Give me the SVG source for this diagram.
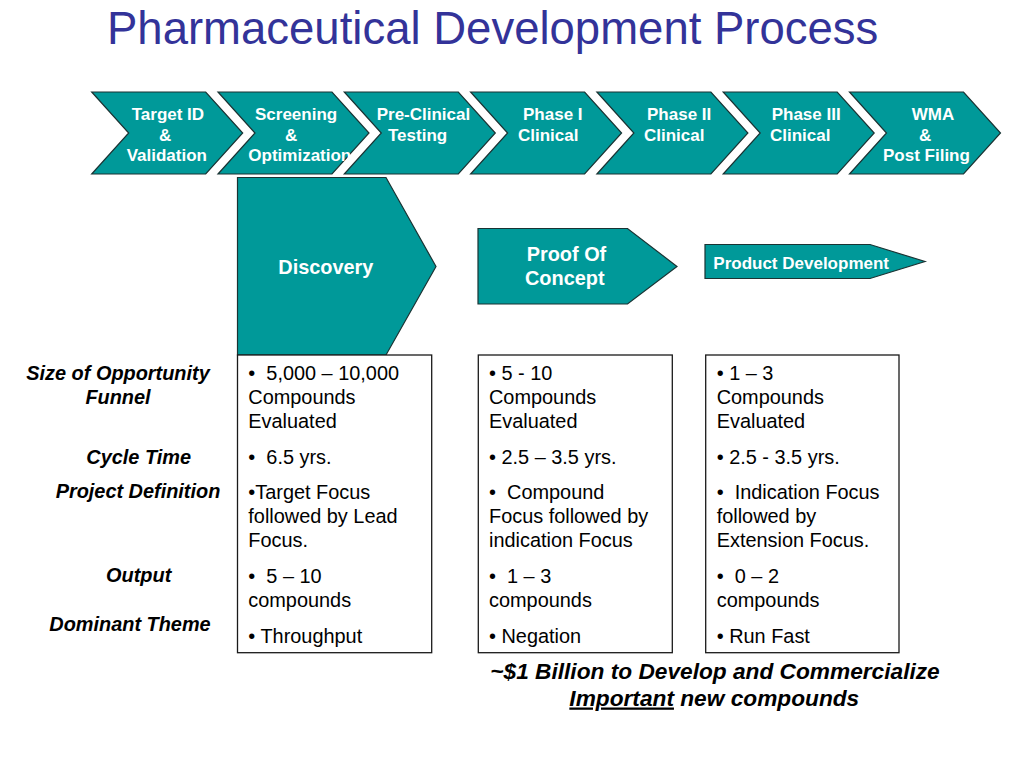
<svg xmlns="http://www.w3.org/2000/svg" width="1024" height="768" viewBox="0 0 1024 768">
<style>
text{font-family:"Liberation Sans",Arial,sans-serif;white-space:pre}
.title{font-size:45.5px;fill:#333399}
.chev{fill:#009999;stroke:#1a3333;stroke-width:1.2}
.ct{font-size:17px;font-weight:bold;fill:#ffffff}
.st{font-size:19.9px;font-weight:bold;fill:#ffffff}
.box{fill:#ffffff;stroke:#1a1a1a;stroke-width:1.3}
.bt{font-size:19.9px;fill:#000000}
.lbl{font-size:19.9px;font-weight:bold;font-style:italic;fill:#000000;text-anchor:middle}
.foot{font-size:22.7px;font-weight:bold;font-style:italic;fill:#000000;text-anchor:middle}
</style>
<rect width="1024" height="768" fill="#ffffff"/>
<text class="title" x="107" y="44">Pharmaceutical Development Process</text>

<g id="chevrons">
<g id="chev-target"><polygon class="chev" points="91.7,92 205.7,92 242.7,133 205.7,174 91.7,174 128.7,133"/>
<text class="ct" x="131.7" y="120">Target ID</text><text class="ct" x="159" y="140.5">&amp;</text><text class="ct" x="126.7" y="161">Validation</text></g>
<g id="chev-screening"><polygon class="chev" points="218,92 332,92 369,133 332,174 218,174 255,133"/>
<text class="ct" x="255" y="120">Screening</text><text class="ct" x="285" y="140.5">&amp;</text><text class="ct" x="248.3" y="161">Optimization</text></g>
<g id="chev-preclinical"><polygon class="chev" points="344.3,92 458.3,92 495.3,133 458.3,174 344.3,174 381.3,133"/>
<text class="ct" x="376.7" y="120">Pre-Clinical</text><text class="ct" x="388" y="140.5">Testing</text></g>
<g id="chev-phase1"><polygon class="chev" points="470.6,92 584.6,92 621.6,133 584.6,174 470.6,174 507.6,133"/>
<text class="ct" x="523" y="120">Phase I</text><text class="ct" x="518" y="140.5">Clinical</text></g>
<g id="chev-phase2"><polygon class="chev" points="596.9,92 710.9,92 747.9,133 710.9,174 596.9,174 633.9,133"/>
<text class="ct" x="647" y="120">Phase II</text><text class="ct" x="644" y="140.5">Clinical</text></g>
<g id="chev-phase3"><polygon class="chev" points="723.2,92 837.2,92 874.2,133 837.2,174 723.2,174 760.2,133"/>
<text class="ct" x="771.7" y="120">Phase III</text><text class="ct" x="770" y="140.5">Clinical</text></g>
<g id="chev-wma"><polygon class="chev" points="849.5,92 963.5,92 1000.5,133 963.5,174 849.5,174 886.5,133"/>
<text class="ct" x="911.7" y="120">WMA</text><text class="ct" x="919" y="140.5">&amp;</text><text class="ct" x="883" y="161">Post Filing</text></g>
</g>

<g id="discovery"><polygon class="chev" points="237.5,177.5 386,177.5 436,266.5 386,355 237.5,355"/>
<text class="st" x="278.3" y="274">Discovery</text></g>
<g id="proof-of-concept"><polygon class="chev" points="478,228.5 627.5,228.5 677,266.5 627.5,304 478,304"/>
<text class="st" x="526.7" y="261">Proof Of</text><text class="st" x="525" y="285">Concept</text></g>
<g id="product-development"><polygon class="chev" points="705,244.5 870,244.5 925,261.5 870,278.5 705,278.5"/>
<text class="ct" x="713.3" y="269">Product Development</text></g>

<g id="row-labels">
<text class="lbl" x="118" y="380">Size of Opportunity</text>
<text class="lbl" x="118" y="403.5">Funnel</text>
<text class="lbl" x="138.7" y="464">Cycle Time</text>
<text class="lbl" x="138" y="497.5">Project Definition</text>
<text class="lbl" x="138.7" y="582">Output</text>
<text class="lbl" x="130" y="631">Dominant Theme</text>
</g>

<g id="box-discovery"><rect class="box" x="237.5" y="355" width="194.2" height="297.7"/>
<text class="bt" x="248.3" y="380">•  5,000 – 10,000</text>
<text class="bt" x="248.3" y="404">Compounds</text>
<text class="bt" x="248.3" y="427.7">Evaluated</text>
<text class="bt" x="248.3" y="464">•  6.5 yrs.</text>
<text class="bt" x="248.3" y="499">•Target Focus</text>
<text class="bt" x="248.3" y="523.3">followed by Lead</text>
<text class="bt" x="248.3" y="546.7">Focus.</text>
<text class="bt" x="248.3" y="582.7">•  5 – 10</text>
<text class="bt" x="248.3" y="606.7">compounds</text>
<text class="bt" x="248.3" y="642.7">• Throughput</text>
</g>
<g id="box-proof"><rect class="box" x="478.3" y="355" width="194" height="297.7"/>
<text class="bt" x="489" y="380">• 5 - 10</text>
<text class="bt" x="489" y="404">Compounds</text>
<text class="bt" x="489" y="427.7">Evaluated</text>
<text class="bt" x="489" y="464">• 2.5 – 3.5 yrs.</text>
<text class="bt" x="489" y="499">•  Compound</text>
<text class="bt" x="489" y="523.3">Focus followed by</text>
<text class="bt" x="489" y="546.7">indication Focus</text>
<text class="bt" x="489" y="582.7">•  1 – 3</text>
<text class="bt" x="489" y="606.7">compounds</text>
<text class="bt" x="489" y="642.7">• Negation</text>
</g>
<g id="box-product"><rect class="box" x="705.7" y="355" width="193.3" height="297.7"/>
<text class="bt" x="716.7" y="380">• 1 – 3</text>
<text class="bt" x="716.7" y="404">Compounds</text>
<text class="bt" x="716.7" y="427.7">Evaluated</text>
<text class="bt" x="716.7" y="464">• 2.5 - 3.5 yrs.</text>
<text class="bt" x="716.7" y="499">•  Indication Focus</text>
<text class="bt" x="716.7" y="523.3">followed by</text>
<text class="bt" x="716.7" y="546.7">Extension Focus.</text>
<text class="bt" x="716.7" y="582.7">•  0 – 2</text>
<text class="bt" x="716.7" y="606.7">compounds</text>
<text class="bt" x="716.7" y="642.7">• Run Fast</text>
</g>

<g id="footer">
<text class="foot" x="715" y="679.3">~$1 Billion to Develop and Commercialize</text>
<text class="foot" x="714.3" y="705.5"><tspan text-decoration="underline">Important</tspan> new compounds</text>
</g>
<g id="connectors"></g>
</svg>
